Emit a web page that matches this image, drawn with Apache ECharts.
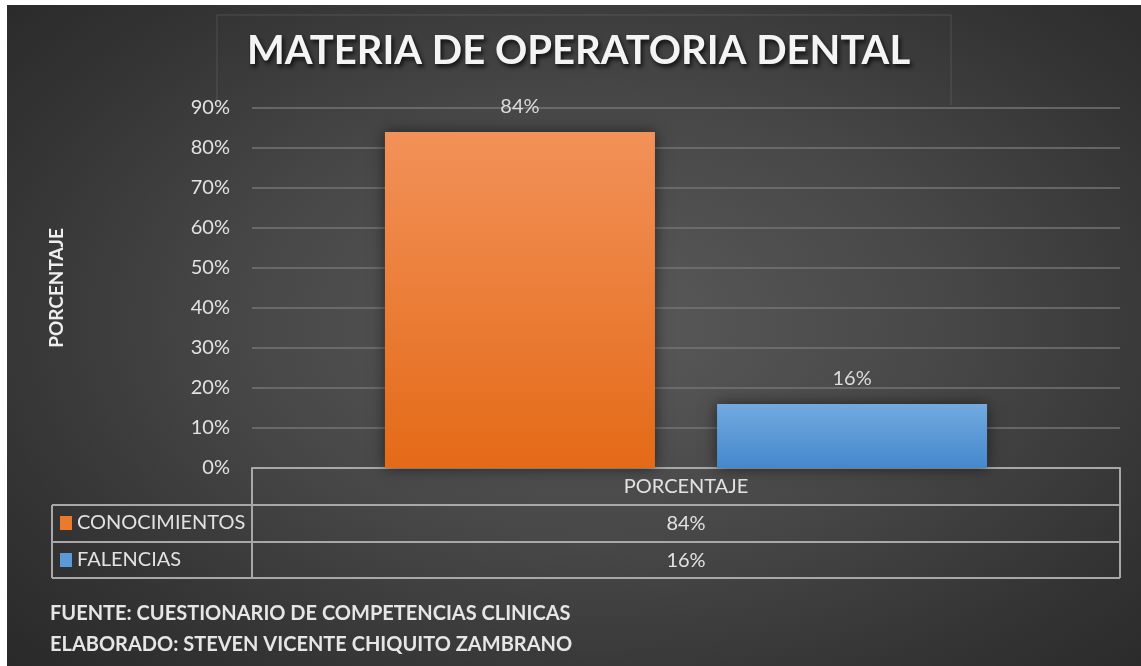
<!DOCTYPE html>
<html>
<head>
<meta charset="utf-8">
<script src="https://cdn.jsdelivr.net/npm/echarts@6/dist/echarts.min.js"></script>
<style>
html,body{margin:0;padding:0;background:#fff;}
#bg{position:absolute;left:7px;top:5px;width:1134px;height:661px;
background:radial-gradient(ellipse 70% 75% at 52% 48%, #5a5a5a 0%, #474747 45%, #333 80%, #2a2a2a 100%);}
#chart{position:absolute;left:0;top:0;width:1141px;height:666px;}
</style>
</head>
<body>
<div id="bg"></div>
<div id="chart"></div>
<script>
const title = 'MATERIA DE OPERATORIA DENTAL';
const categories = ['PORCENTAJE'];
const seriesNames = ['CONOCIMIENTOS', 'FALENCIAS'];
const conocimientos = [0.84];
const falencias = [0.16];
const yTicks = [0, 0.1, 0.2, 0.3, 0.4, 0.5, 0.6, 0.7, 0.8, 0.9];
const yAxisName = 'PORCENTAJE';
const footer = ['FUENTE: CUESTIONARIO DE COMPETENCIAS CLINICAS', 'ELABORADO: STEVEN VICENTE CHIQUITO ZAMBRANO'];

const FONT = 'Lato';
const FS = 20;
const pct = v => Math.round(v * 100) + '%';

// layout constants
const G = {left: 252, right: 21, top: 108, bottom: 198};
const W = 1141, H = 666;
const plotL = G.left, plotR = W - G.right, axisY = H - G.bottom;
const rowH = 37;
const tableL = 52;
const rowsY = [axisY, axisY + rowH, axisY + 2 * rowH, axisY + 3 * rowH - 1];
const lineStyle = {stroke: '#a8a8a8', lineWidth: 2};

const orangeGrad = new echarts.graphic.LinearGradient(0, 0, 0, 1, [
  {offset: 0, color: '#F29159'}, {offset: 1, color: '#E46A17'}]);
const blueGrad = new echarts.graphic.LinearGradient(0, 0, 0, 1, [
  {offset: 0, color: '#72AAE0'}, {offset: 1, color: '#4488CC'}]);

const seriesData = [conocimientos, falencias];
const seriesColors = [orangeGrad, blueGrad];
const legendColors = ['#EC7A2C', '#5A9AD8'];

const graphics = [];
// title box (faint)
graphics.push({type: 'polyline', shape: {points: [[217, 105], [217, 15], [951, 15], [951, 105]]},
  style: {stroke: 'rgba(255,255,255,0.13)', lineWidth: 1, fill: null}, silent: true});
// table lines
graphics.push({type: 'line', shape: {x1: plotL, y1: rowsY[0], x2: plotL, y2: rowsY[3]}, style: lineStyle});
graphics.push({type: 'line', shape: {x1: plotR, y1: rowsY[0], x2: plotR, y2: rowsY[3]}, style: lineStyle});
graphics.push({type: 'line', shape: {x1: tableL, y1: rowsY[1], x2: tableL, y2: rowsY[3]}, style: lineStyle});
for (let i = 1; i < 4; i++) {
  graphics.push({type: 'line', shape: {x1: tableL, y1: rowsY[i], x2: plotR, y2: rowsY[i]}, style: lineStyle});
}
// table values
seriesData.forEach((arr, i) => {
  graphics.push({type: 'text', x: (plotL + plotR) / 2, y: rowsY[i + 1] + rowH / 2,
    style: {text: pct(arr[0]), fill: '#e2e2e2', font: FS + 'px ' + FONT, align: 'center', verticalAlign: 'middle'}});
});
// footer
footer.forEach((t, i) => {
  graphics.push({type: 'text', x: 50, y: 614 + i * 31,
    style: {text: t, fill: '#e6e6e6', font: 'bold 20px ' + FONT, align: 'left', verticalAlign: 'middle'}});
});

const chart = echarts.init(document.getElementById('chart'), null, {renderer: 'canvas'});
chart.setOption({
  backgroundColor: 'transparent',
  animation: false,
  title: {
    text: title, left: 242, top: 26,
    textStyle: {color: '#f4f4f4', fontFamily: FONT, fontWeight: 'bold', fontSize: 40,
      textShadowColor: 'rgba(0,0,0,0.75)', textShadowBlur: 4, textShadowOffsetX: 2, textShadowOffsetY: 3}
  },
  legend: {
    orient: 'vertical', left: 60, top: rowsY[1] + 8, itemGap: 17, padding: 0,
    icon: 'rect', itemWidth: 12, itemHeight: 14,
    textStyle: {color: '#e2e2e2', fontFamily: FONT, fontSize: FS},
    data: seriesNames.map((n, i) => ({name: n, itemStyle: {color: legendColors[i]}})),
    selectedMode: false
  },
  grid: {left: G.left, right: G.right, top: G.top, bottom: G.bottom, containLabel: false},
  xAxis: {
    type: 'category', data: categories,
    axisLine: {show: true, lineStyle: {color: '#a8a8a8', width: 2}},
    axisTick: {show: false},
    axisLabel: {color: '#e2e2e2', fontFamily: FONT, fontSize: FS, margin: 9}
  },
  yAxis: {
    type: 'value', min: 0, max: 0.9, interval: 0.1,
    name: yAxisName, nameLocation: 'middle', nameGap: 186, nameRotate: 90,
    nameTextStyle: {color: '#eeeeee', fontFamily: FONT, fontWeight: 'bold', fontSize: 19},
    axisLine: {show: false}, axisTick: {show: false},
    axisLabel: {color: '#e2e2e2', fontFamily: FONT, fontSize: FS, margin: 22,
      formatter: v => yTicks.some(t => Math.abs(t - v) < 1e-9) ? pct(v) : ''},
    splitLine: {lineStyle: {color: '#747474', width: 1.5}}
  },
  series: seriesNames.map((n, i) => ({
    name: n, type: 'bar', data: seriesData[i], barWidth: 270, barGap: '23%',
    itemStyle: {color: seriesColors[i], shadowColor: 'rgba(0,0,0,0.55)', shadowBlur: 14, shadowOffsetX: 0, shadowOffsetY: 0},
    label: {show: true, position: 'top', distance: 15, formatter: p => pct(p.value),
      color: '#dcdcdc', fontFamily: FONT, fontSize: FS}
  })),
  graphic: graphics
});
</script>
</body>
</html>
